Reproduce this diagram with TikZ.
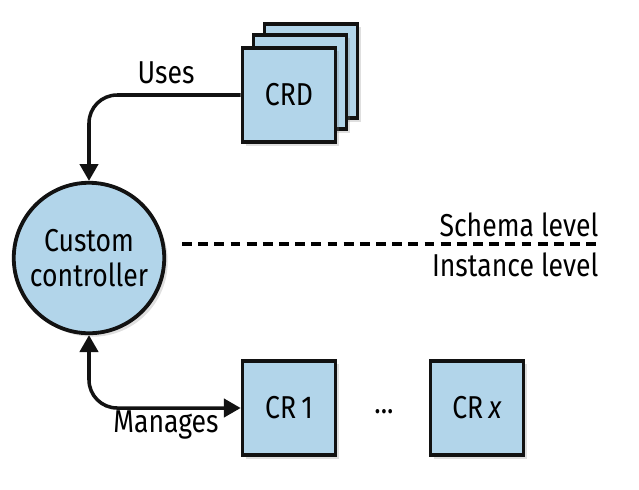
\documentclass[tikz,border=0pt]{standalone}
\usepackage{fontspec}
\setmainfont[FakeStretch=0.84]{Fira Sans}
\usepackage{xcolor}
\usepackage{tikz}
\usetikzlibrary{positioning, arrows.meta, shadows}
\definecolor{boxblue}{RGB}{178,213,234}
\definecolor{lineblack}{RGB}{18,18,18}

\begin{document}
\begin{tikzpicture}[
  x=0.025cm, y=-0.025cm,
  box/.style={rectangle, draw=lineblack, line width=2.7pt, fill=boxblue, minimum width=66pt, minimum height=67pt, align=center, font=\fontsize{22.5}{26}\selectfont,
    drop shadow={shadow xshift=2.5pt, shadow yshift=-2.5pt, opacity=0.25}},
  ctrlnode/.style={circle, draw=lineblack, line width=2.7pt, fill=boxblue, minimum size=107pt, align=center, font=\fontsize{22.5}{25}\selectfont,
    drop shadow={shadow xshift=2.5pt, shadow yshift=-2.5pt, opacity=0.25}},
  lbl/.style={font=\fontsize{22.5}{26}\selectfont, inner sep=0pt},
  arrow/.style={line width=2.5pt, draw=lineblack, rounded corners=20pt, -{Triangle[length=12pt,width=13pt]}}
]
\useasboundingbox (0,0) rectangle (639,489);

% schema level
\node[box] (crdback) at (311,71) {};
\node[box] (crdmid) at (300,82) {};
\node[box] (crd) at (289,95) {CRD};
\node[ctrlnode] (ctrl) at (89,258) {Custom\\controller};
\node[lbl] (uses) at (166,73) {Uses};

% instance level
\node[box] (cr1) at (289,408) {CR\,1};
\node[lbl] (dots) at (384,412) {...};
\node[box] (crx) at (477,408) {CR\,\textit{x}};
\node[lbl] (manages) at (166,425) {Manages};

% level divider
\coordinate (divL) at (182,244);
\coordinate (divR) at (600,244);
\draw[line width=2.5pt, dash pattern=on 7pt off 4.5pt] (divL) -- (divR);
\node[lbl, anchor=south east] (schema) at ([xshift=-1pt, yshift=5pt]divR) {Schema level};
\node[lbl, anchor=north east] (instance) at ([xshift=-1pt, yshift=-6pt]divR) {Instance level};

\draw[arrow] (crd.west) -| (ctrl.north);
\draw[arrow, {Triangle[length=12pt,width=13pt]}-{Triangle[length=12pt,width=13pt]}] (ctrl.south) |- (cr1.west);
\end{tikzpicture}
\end{document}
